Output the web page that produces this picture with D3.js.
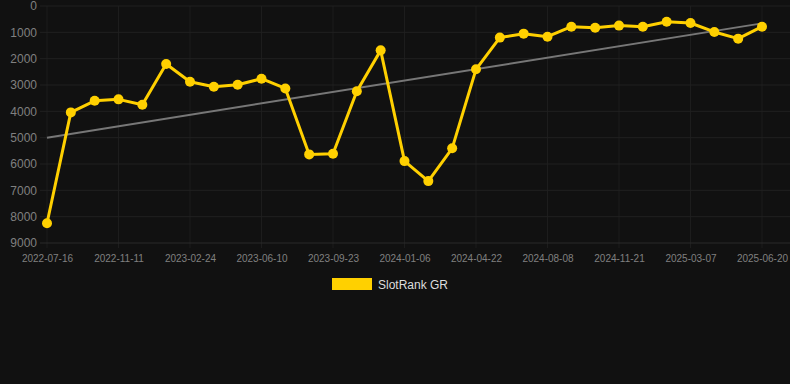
<!DOCTYPE html>
<html>
<head>
<meta charset="utf-8">
<script src="https://cdn.jsdelivr.net/npm/d3@7"></script>
<style>
  body { margin: 0; background: #111111; }
  svg { display: block; font-family: "Liberation Sans", Arial, sans-serif; }
</style>
</head>
<body>
<svg id="chart"></svg>
<script>
// dates on the x axis (labels shown every 3rd point)
let dates = [
  '2022-07-16', '2022-08-24', '2022-10-02', '2022-11-11', '2022-12-16', '2023-01-20',
  '2023-02-24', '2023-03-31', '2023-05-06', '2023-06-10', '2023-07-15', '2023-08-19',
  '2023-09-23', '2023-10-28', '2023-12-02', '2024-01-06', '2024-02-10', '2024-03-17',
  '2024-04-22', '2024-05-28', '2024-07-03', '2024-08-08', '2024-09-12', '2024-10-17',
  '2024-11-21', '2024-12-26', '2025-01-30', '2025-03-07', '2025-04-11', '2025-05-16',
  '2025-06-20'
];

// rank values (lower is better, axis reversed)
let ranks = [
  8250, 4040, 3600, 3545, 3750, 2200, 2875, 3065, 2990, 2760, 3130, 5635,
  5610, 3240, 1685, 5890, 6650, 5405, 2405, 1200, 1050, 1165, 785, 825,
  745, 785, 595, 645, 985, 1240, 785
];

// trend line at first and last date
let trendValues = [5000, 660];

let yTicks = [0, 1000, 2000, 3000, 4000, 5000, 6000, 7000, 8000, 9000];
let seriesName = 'SlotRank GR';

let width = 790;
let height = 384;
let svg = d3.select('#chart')
  .attr('width', width)
  .attr('height', height);

svg.append('rect')
  .attr('width', width)
  .attr('height', height)
  .attr('fill', '#111111');

let x = d3.scalePoint()
  .domain(dates)
  .range([47, 762]);

let y = d3.scaleLinear()
  .domain([0, 9000])
  .range([6, 243]);

let shownDates = dates.filter((d, i) => i % 3 === 0);

// vertical grid
svg.append('g')
  .selectAll('line')
  .data(shownDates)
  .enter()
  .append('line')
    .attr('x1', d => x(d))
    .attr('x2', d => x(d))
    .attr('y1', y(0))
    .attr('y2', y(9000) + 5)
    .attr('stroke', '#1d1d1d')
    .attr('stroke-width', 1);

// horizontal grid
svg.append('g')
  .selectAll('line')
  .data(yTicks)
  .enter()
  .append('line')
    .attr('x1', 40)
    .attr('x2', 790)
    .attr('y1', d => y(d))
    .attr('y2', d => y(d))
    .attr('stroke', d => d === 9000 ? '#2a2a2a' : '#212121')
    .attr('stroke-width', 1);

// y axis labels
let yAxis = d3.axisLeft(y)
  .tickValues(yTicks)
  .tickSize(0)
  .tickPadding(0)
  .tickFormat(d3.format('d'));

let yAxisG = svg.append('g')
  .attr('transform', 'translate(37,0)')
  .call(yAxis);
yAxisG.select('.domain').remove();
yAxisG.selectAll('text')
  .attr('fill', '#808080')
  .attr('font-size', '12px')
  .attr('font-family', '"Liberation Sans", Arial, sans-serif');

// x axis labels
let xAxis = d3.axisBottom(x)
  .tickValues(shownDates)
  .tickSize(0)
  .tickPadding(0);

let xAxisG = svg.append('g')
  .attr('transform', 'translate(0,255)')
  .call(xAxis);
xAxisG.select('.domain').remove();
xAxisG.selectAll('text')
  .attr('fill', '#808080')
  .attr('font-size', '10px')
  .attr('font-family', '"Liberation Sans", Arial, sans-serif');

// trend line
svg.append('line')
  .attr('x1', x(dates[0]))
  .attr('y1', y(trendValues[0]))
  .attr('x2', x(dates[dates.length - 1]))
  .attr('y2', y(trendValues[1]))
  .attr('stroke', '#777777')
  .attr('stroke-width', 2);

// series line
let points = dates.map((d, i) => ({ date: d, rank: ranks[i] }));

let line = d3.line()
  .x(d => x(d.date))
  .y(d => y(d.rank));

svg.append('path')
  .datum(points)
  .attr('d', line)
  .attr('fill', 'none')
  .attr('stroke', '#FFD000')
  .attr('stroke-width', 3)
  .attr('stroke-linejoin', 'round');

svg.append('g')
  .selectAll('circle')
  .data(points)
  .enter()
  .append('circle')
    .attr('cx', d => x(d.date))
    .attr('cy', d => y(d.rank))
    .attr('r', 5)
    .attr('fill', '#FFD000');

// legend
let legend = svg.append('g');
legend.append('rect')
  .attr('x', 332)
  .attr('y', 278)
  .attr('width', 40)
  .attr('height', 12)
  .attr('fill', '#FFD000');
legend.append('text')
  .attr('x', 378)
  .attr('y', 289)
  .attr('fill', '#dddddd')
  .attr('font-size', '12px')
  .text(seriesName);
</script>
</body>
</html>
